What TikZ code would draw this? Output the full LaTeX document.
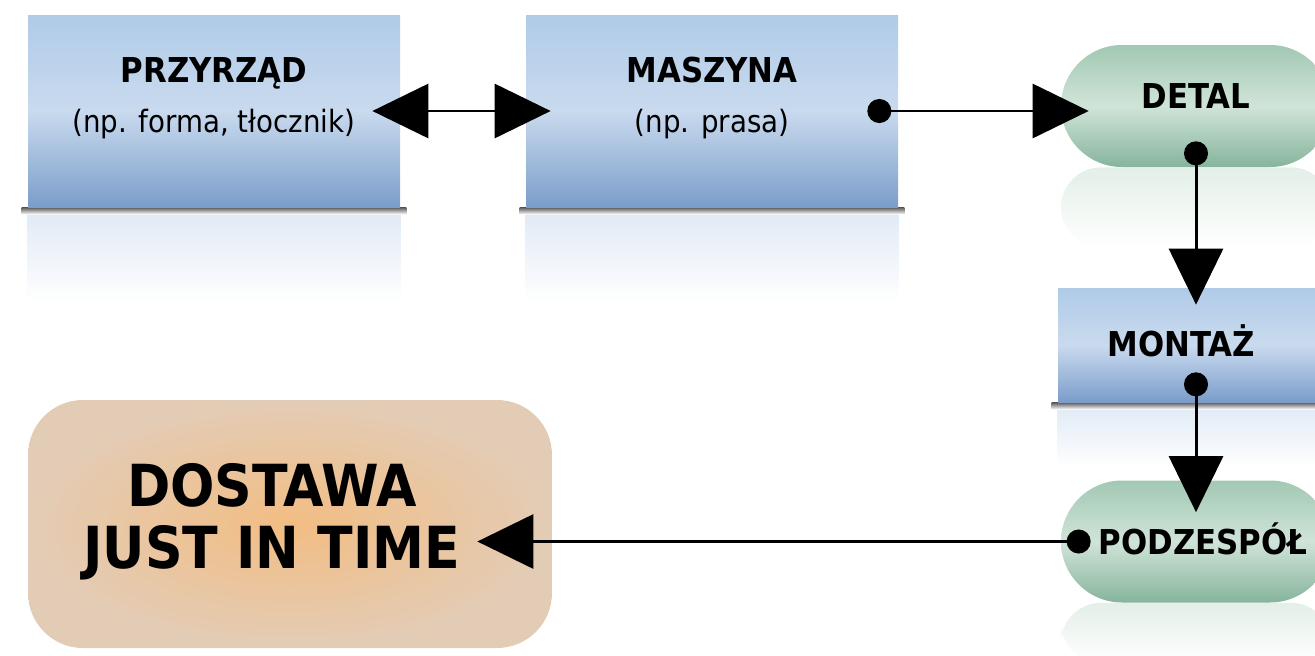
\documentclass[tikz,border=0pt]{standalone}
\usepackage{fontspec}
\setmainfont{DejaVu Sans Condensed}
\usetikzlibrary{shapes.misc,arrows.meta,calc,positioning,backgrounds}

\definecolor{boxtop}{HTML}{B0CBE8}
\definecolor{boxmid}{HTML}{C9DAEE}
\definecolor{boxbot}{HTML}{7B9DCA}
\definecolor{pilltop}{HTML}{A2C8B3}
\definecolor{pillmid}{HTML}{D0E4D8}
\definecolor{pillbot}{HTML}{86B49C}
\definecolor{dostin}{HTML}{F2BD83}
\definecolor{dostout}{HTML}{E3CCB6}

\begin{document}
\begin{tikzpicture}[every node/.style={align=center,inner sep=0pt},
  bigtri/.tip={Triangle[length=1.12cm,width=1.08cm]},
  bigdot/.tip={Circle[length=0.48cm]},
  bluebox/.style={rectangle,top color=boxtop,bottom color=boxbot,middle color=boxmid,minimum width=7.44cm,minimum height=3.84cm},
  pill/.style={rounded rectangle,top color=pilltop,bottom color=pillbot,middle color=pillmid,minimum width=5.4cm,minimum height=2.44cm},
  deliverybox/.style={rectangle,rounded corners=1.1cm,inner color=dostin,outer color=dostout,minimum width=10.48cm,minimum height=4.96cm},
  heading/.style={font=\bfseries\fontsize{19.5}{23}\selectfont},
  note/.style={font=\fontsize{17.5}{21}\selectfont},
  link/.style={line width=1.7pt}]
\useasboundingbox (0,0) rectangle (26.3,-13.1);
\node [bluebox] (Przyrzad) at (4.28,-2.22) {};
\node [heading,anchor=base] (PrzyrzadName) at ([yshift=0.58cm]Przyrzad.center) {PRZYRZĄD};
\node [note,anchor=base] (PrzyrzadNote) at ([yshift=-0.42cm]Przyrzad.center) {(np. forma, tłocznik)};
\node [bluebox] (Maszyna) at (14.24,-2.22) {};
\node [heading,anchor=base] (MaszynaName) at ([yshift=0.58cm]Maszyna.center) {MASZYNA};
\node [note,anchor=base] (MaszynaNote) at ([yshift=-0.42cm]Maszyna.center) {(np. prasa)};
\node [pill] (Detal) at (23.92,-2.12) {};
\node [heading,anchor=base] (DetalName) at ([yshift=-0.04cm]Detal.center) {DETAL};
\node [bluebox,minimum width=5.52cm,minimum height=2.28cm] (Montaz) at (23.92,-6.9) {};
\node [heading,anchor=base] (MontazName) at ([xshift=-0.3cm,yshift=-0.22cm]Montaz.center) {MONTAŻ};
\node [pill] (Podzespol) at (23.92,-10.83) {};
\node [heading,anchor=base] (PodzespolName) at ([xshift=0.14cm,yshift=-0.26cm]Podzespol.center) {PODZESPÓŁ};
\node [deliverybox] (Dostawa) at (5.8,-10.48) {};
\node [font=\bfseries\fontsize{33}{35}\selectfont] (DostawaName) at ([xshift=-0.36cm,yshift=0.04cm]Dostawa.center) {DOSTAWA\\JUST IN TIME};
\begin{scope}[on background layer]
\foreach \n/\h in {Przyrzad/1.9,Maszyna/1.9,Montaz/1.3} {
  \shade [top color=boxmid!60!white,bottom color=white] (\n.south west) rectangle ([yshift=-\h cm]\n.south east);
  \shade [top color=black!65,bottom color=white] ([xshift=-0.12cm]\n.south west) rectangle ([xshift=0.12cm,yshift=-0.14cm]\n.south east);
}
\foreach \n/\h in {Detal/1.6,Podzespol/1.2}
  \shade [rounded corners=0.8cm,top color=pillmid!60!white,bottom color=white] ([xshift=-2.7cm]\n.south) rectangle ([xshift=2.7cm,yshift=-\h cm]\n.south);
\end{scope}
\draw [link,bigtri-bigtri,shorten <=-0.56cm,shorten >=-0.5cm] (Przyrzad.east) -- (Maszyna.west);
\draw [link,bigdot-bigtri,shorten <=-0.62cm,shorten >=-0.56cm] (Maszyna.east) -- (Maszyna.east -| Detal.west);
\draw [link,bigdot-bigtri,shorten <=-0.52cm,shorten >=-0.34cm] (Detal.south) -- (Montaz.north);
\draw [link,bigdot-bigtri,shorten <=-0.6cm,shorten >=-0.64cm] (Montaz.south) -- (Podzespol.north);
\draw [link,bigdot-bigtri,shorten <=-0.6cm,shorten >=-1.5cm] (Podzespol.west) -- (Podzespol.west -| Dostawa.east);
\end{tikzpicture}
\end{document}
